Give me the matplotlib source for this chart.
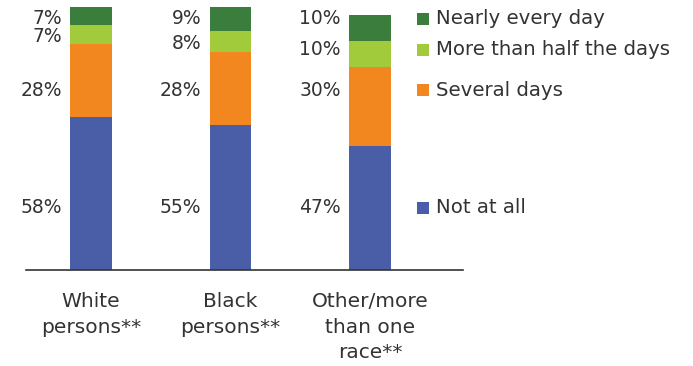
import matplotlib
matplotlib.use('Agg')
import matplotlib.pyplot as plt
import numpy as np

# data
groups = ['White\npersons**', 'Black\npersons**', 'Other/more\nthan one\nrace**']
series = ['Not at all', 'Several days', 'More than half the days', 'Nearly every day']
not_at_all = [58, 55, 47]
several = [28, 28, 30]
more_half = [7, 8, 10]
nearly_every = [7, 9, 10]

colors = ['#4a5ea8', '#f3871f', '#a2cb3c', '#3a7d3c']
txt = '#333333'
plt.rcParams['font.family'] = ['DejaVu Sans']

fig = plt.figure(figsize=(6.93, 3.66), dpi=100)
ax = fig.add_axes([26/693, 1-270/366, (463-26)/693, 263/366])

x = np.arange(len(groups))
vals = [not_at_all, several, more_half, nearly_every]
bottom = np.zeros(len(groups))
for v, c in zip(vals, colors):
    ax.bar(x, v, 0.30, bottom=bottom, color=c, linewidth=0)
    bottom += np.array(v)

# label heights, hand placed in the source chart (rows: blue, orange, light green, dark green)
row_y = [[23.6] * 3, [68.4] * 3, [88.6, 86.3, 83.7], [95.6] * 3]
for i in range(len(groups)):
    for k in range(4):
        ax.text(x[i] - 0.21, row_y[k][i], '%d%%' % vals[k][i], ha='right', va='center',
                fontsize=13.5, color=txt)

# legend drawn next to the last bar's labels
for k in range(4):
    ax.scatter(2.38, row_y[k][-1], marker='s', s=80, color=colors[k], clip_on=False, linewidths=0)
    ax.text(2.475, row_y[k][-1], series[k], ha='left', va='center', fontsize=14.2, color=txt)

ax.set_xlim(-0.466, 2.667)
ax.set_ylim(0, 100)
for s in ['top', 'right', 'left']:
    ax.spines[s].set_visible(False)
ax.spines['bottom'].set_color('#333333')
ax.spines['bottom'].set_linewidth(1.2)
ax.set_yticks([])
ax.set_xticks(x)
ax.set_xticklabels(groups, fontsize=14.5, color=txt, linespacing=1.42)
ax.tick_params(axis='x', length=0, pad=16)

fig.savefig('out.png', dpi=100)
